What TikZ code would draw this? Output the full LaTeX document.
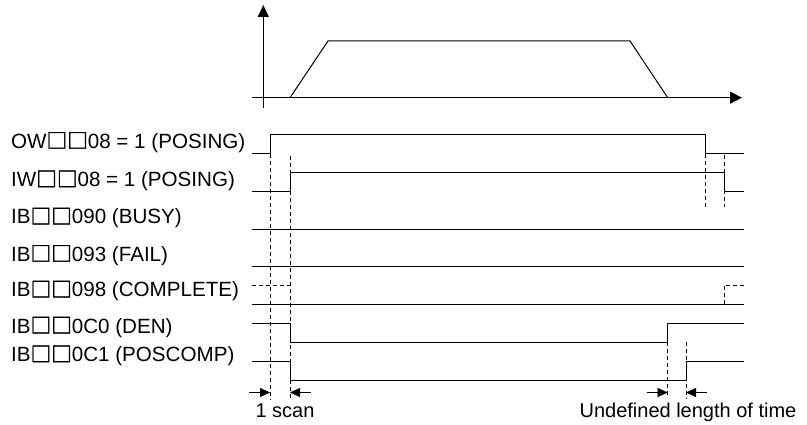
\documentclass[tikz,border=0pt]{standalone}
\usepackage{fontspec}
\setmainfont{Liberation Sans}
\newfontfamily\cjk[FakeBold=2]{Noto Sans CJK JP}
\usetikzlibrary{arrows.meta}
\newcommand{\bx}{{\cjk □}}

\begin{document}
\begin{tikzpicture}[x=1pt, y=-1pt, >={Triangle[length=10pt,width=9pt]},
  sig/.style={line width=1pt},
  guide/.style={line width=0.8pt, dash pattern=on 4pt off 3pt},
  lbl/.style={anchor=base west, inner sep=0pt, font=\fontsize{20.6}{24}\selectfont},
  note/.style={anchor=base, inner sep=0pt, font=\fontsize{20}{24}\selectfont}]
\useasboundingbox (0,0) rectangle (807,425);

% Axes
\draw[line width=1.3pt, -{Triangle[length=12pt,width=11pt]}] (263.3,108.3) -- (263.3,5);
\draw[line width=1.3pt, -{Triangle[length=12pt,width=12pt]}] (251.7,97.7) -- (742,97.7);

% Speed profile
\draw[sig] (290,97.7) -- (328,41) -- (630,41) -- (667.7,97.7);

% Signal names
\node[lbl] (ow)   at (11,148.3) {OW\bx\bx08 = 1 (POSING)};
\node[lbl] (iw)   at (11,186.7) {IW\bx\bx08 = 1 (POSING)};
\node[lbl] (busy) at (11,224)   {IB\bx\bx090 (BUSY)};
\node[lbl] (fail) at (11,261.3) {IB\bx\bx093 (FAIL)};
\node[lbl] (comp) at (11,297)   {IB\bx\bx098 (COMPLETE)};
\node[lbl] (den)  at (11,333)   {IB\bx\bx0C0 (DEN)};
\node[lbl] (pcmp) at (11,361.7) {IB\bx\bx0C1 (POSCOMP)};

% Signals
\draw[sig] (252,154) -- (270,154) -- (270,135) -- (705.5,135) -- (705.5,154) -- (744,154);
\draw[sig] (252,192) -- (290,192) -- (290,173) -- (724,173) -- (724,192) -- (744,192);
\draw[sig] (252,229.3) -- (744,229.3);
\draw[sig] (252,266.7) -- (744,266.7);
\draw[sig] (252,304.3) -- (744,304.3);
\draw[guide] (252,285) -- (290,285);
\draw[guide] (724,304.3) -- (724,285) -- (744,285);
\draw[sig] (252,323.3) -- (290,323.3) -- (290,342.3) -- (667.7,342.3) -- (667.7,323.3) -- (744,323.3);
\draw[sig] (252,361) -- (290,361) -- (290,380) -- (686,380) -- (686,361) -- (744,361);

% Dashed guides
\draw[guide] (270,154) -- (270,400);
\draw[guide] (290,156) -- (290,400);
\draw[guide] (705.5,154) -- (705.5,207);
\draw[guide] (724,155) -- (724,207);
\draw[guide] (667.7,342.3) -- (667.7,398);
\draw[guide] (686,341.7) -- (686,398);

% Times
\draw[->] (249.3,392.5) -- (270,392.5);
\draw[->] (310.7,392.5) -- (290,392.5);
\node[note] (scan) at (285,417) {1 scan};

\draw[->] (646.7,392.5) -- (667.7,392.5);
\draw[->] (706.7,392.5) -- (686,392.5);
\node[note] (undef) at (688,417) {Undefined length of time};
\end{tikzpicture}
\end{document}
